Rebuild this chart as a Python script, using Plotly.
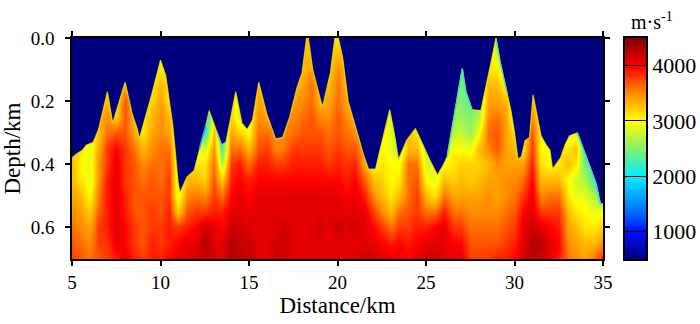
import plotly.graph_objects as go

# depth rows (km) and distance stations (km)
depths = [0.0,0.05,0.1,0.15,0.2,0.25,0.3,0.35,0.4,0.45,0.5,0.55,0.6,0.65,0.7]
stations = [5+0.5*i for i in range(61)]

# velocity columns in hundreds of m/s, one list per station, top to bottom
velocity_columns = [
[33,33,33,33,33,33,33,33,33,33,34,35,36,37,38],
[31,31,31,31,31,31,31,31,30,31,33,34,35,36,37],
[29,29,29,29,29,29,29,29,29,29,30,32,34,35,36],
[33,33,33,33,33,33,33,34,35,35,36,37,38,38,37],
[31,31,31,31,33,35,36,38,38,39,39,39,39,38,38],
[31,31,31,31,31,32,37,40,41,41,41,41,41,41,39],
[32,32,32,33,37,37,37,38,38,38,39,39,40,40,41],
[33,33,33,33,33,33,34,36,37,37,37,37,38,38,39],
[31,31,31,31,31,31,31,33,35,36,37,37,37,37,38],
[31,31,31,31,32,33,34,35,36,37,37,38,38,39,39],
[30,30,31,33,34,35,35,36,36,36,37,37,38,38,39],
[31,31,31,31,31,33,34,36,37,38,38,39,39,39,40],
[28,28,28,28,28,28,28,28,28,28,29,32,38,40,41],
[32,32,32,32,32,32,32,32,32,33,35,37,39,41,41],
[30,30,30,30,30,30,30,30,31,33,36,38,40,41,42],
[19,19,19,19,19,19,22,28,31,32,35,38,42,43,42],
[30,30,30,30,30,30,33,35,36,37,38,39,41,41,42],
[23,23,23,23,23,23,23,23,27,32,36,39,40,41,41],
[32,32,32,32,32,32,34,36,38,39,40,41,42,43,43],
[28,28,28,28,28,28,32,36,39,40,41,41,42,42,43],
[29,29,29,29,29,29,30,33,36,39,40,41,41,42,42],
[33,33,33,33,34,35,36,37,39,40,41,41,41,41,41],
[33,33,33,33,33,34,36,38,39,40,41,41,41,41,41],
[35,35,35,35,35,35,35,35,38,40,41,41,41,42,42],
[35,35,35,35,35,35,35,36,38,40,41,41,42,42,42],
[33,33,33,33,34,35,36,38,39,40,41,41,41,41,41],
[33,33,33,34,35,36,37,38,39,40,41,41,41,41,41],
[33,33,34,36,36,37,37,38,39,40,41,41,41,41,41],
[33,33,33,33,33,35,37,38,39,40,41,41,42,41,41],
[32,32,32,33,34,35,36,37,38,40,41,41,41,41,41],
[31,33,35,36,36,37,37,38,39,40,41,41,42,41,41],
[33,33,33,33,34,35,36,37,38,39,40,41,41,41,41],
[33,33,33,33,33,33,35,37,39,40,41,41,42,41,41],
[34,34,34,34,34,34,34,34,34,37,39,41,41,41,42],
[30,30,30,30,30,30,30,30,30,33,35,38,40,41,42],
[30,30,30,30,30,30,30,30,31,32,33,35,38,40,41],
[28,28,28,28,28,28,29,29,30,30,31,33,36,39,41],
[27,27,27,27,27,27,27,27,30,31,33,36,38,40,41],
[33,33,33,33,33,33,33,33,36,36,36,37,38,39,40],
[30,30,30,30,30,30,31,33,36,37,38,38,39,40,41],
[27,27,27,27,27,27,27,27,28,30,33,36,39,41,42],
[29,29,29,29,29,29,29,29,29,29,31,36,40,41,42],
[29,29,29,29,29,29,29,29,30,33,36,39,41,41,41],
[26,26,26,26,26,26,27,30,31,32,34,36,38,40,41],
[23,23,24,24,25,26,28,30,32,33,34,36,38,40,41],
[24,24,24,24,24,25,26,29,32,32,34,35,36,37,38],
[26,26,26,26,26,27,30,33,32,33,34,35,36,37,38],
[31,31,31,33,34,35,36,35,33,34,35,35,36,37,38],
[26,28,31,33,34,36,37,37,35,34,34,35,36,37,39],
[26,26,26,30,33,34,34,34,34,35,35,36,37,38,39],
[28,28,28,28,28,28,31,33,34,35,36,37,38,39,40],
[31,31,31,31,31,31,31,31,34,36,38,40,41,41,42],
[32,32,32,32,33,35,37,38,39,40,41,41,42,43,42],
[30,30,30,30,30,30,30,30,31,33,35,38,41,43,42],
[30,30,30,30,30,30,30,30,30,33,36,38,40,41,41],
[31,31,31,31,31,31,31,31,31,33,36,38,39,40,39],
[29,29,29,29,29,29,29,31,33,30,31,33,34,35,36],
[27,27,27,27,27,27,28,33,31,28,29,31,33,34,35],
[22,22,22,22,22,22,22,22,24,27,29,30,31,33,34],
[22,22,22,22,22,22,22,22,22,22,27,29,31,33,36],
[22,22,22,22,22,22,22,22,22,22,23,30,32,35,39],
]

# top of the velocity model (km)
surface_x = [5,5.2,5.6,5.8,6.2,6.5,7,7.3,8,8.4,8.7,8.8,9,9.5,10,10.3,10.7,11,11.1,11.5,11.9,12.2,12.4,12.55,12.75,13.2,13.45,13.7,14.25,14.6,14.9,15.2,15.55,16,16.5,16.9,17.3,17.7,18,18.25,18.35,18.6,19.15,19.6,19.85,20.05,20.3,20.6,21,21.5,21.75,22.15,22.4,22.7,22.95,23.2,23.45,23.9,24.4,24.8,25.2,25.65,26,26.2,26.5,26.8,27.05,27.25,27.6,28.1,28.4,28.7,28.95,29.2,29.6,29.8,30,30.2,30.4,30.6,30.85,31.05,31.5,31.8,32,32.15,32.6,32.85,33.1,33.55,34,34.6,34.85,35]
surface_depth = [.38,.37,.355,.34,.33,.29,.17,.27,.14,.24,.29,.32,.28,.18,.07,.12,.28,.46,.49,.44,.42,.35,.31,.28,.23,.30,.34,.33,.17,.27,.29,.26,.14,.24,.32,.315,.25,.16,.11,0,0,.10,.22,.11,0,0,.065,.2,.28,.375,.415,.415,.355,.29,.227,.30,.385,.325,.287,.335,.385,.435,.40,.375,.28,.175,.097,.17,.227,.23,.155,.07,0,.08,.18,.23,.30,.385,.375,.325,.315,.18,.31,.34,.355,.415,.38,.34,.31,.30,.37,.46,.525,.525]

# stretches of the surface whose thin rim is cool-coloured, with that colour
cool_rims = [(12.2,12.55,"#20a0ff"),(13.2,13.7,"#40e0c0"),(26.2,27.6,"#40e0b0"),(28.95,29.6,"#60e0a0"),(33.55,35,"#40d8c0")]

x_ticks = [5,10,15,20,25,30,35]
y_ticks = [0.0,0.2,0.4,0.6]
bar_ticks = [1000,2000,3000,4000]
bar_values = [500,750,1000,1250,1500,1750,2000,2250,2500,2750,3000,3250,3500,3750,4000,4250,4500]

SERIF = "Liberation Serif"
z = [[velocity_columns[c][r]*100 for c in range(len(stations))] for r in range(len(depths))]

colorscale = [
    [0.0, "#00007f"], [0.125, "#0010ff"], [0.22, "#0070ff"], [0.375, "#00f0ff"],
    [0.5, "#80f070"], [0.625, "#ffff00"], [0.75, "#ff8c00"], [0.875, "#ff0000"], [1.0, "#7f0000"],
]

W, H = 700, 324
L, T, R, B = 72, 37.5, 54, 65
span = W - L - R

fig = go.Figure()
fig.add_trace(go.Heatmap(
    x=stations, y=depths, z=z, zsmooth="best", zmin=500, zmax=4500,
    colorscale=colorscale, hoverinfo="skip", showscale=False, xaxis="x", yaxis="y",
))
fig.add_trace(go.Scatter(
    x=[5]+surface_x+[35], y=[0]+surface_depth+[0], mode="lines",
    line=dict(width=0), fill="toself", fillcolor="#00007f", hoverinfo="skip", showlegend=False,
    xaxis="x", yaxis="y",
))
fig.add_trace(go.Scatter(
    x=surface_x, y=surface_depth, mode="lines", line=dict(width=1.2, color="rgba(250,235,0,0.75)"),
    hoverinfo="skip", showlegend=False, xaxis="x", yaxis="y",
))
for start, stop, rim in cool_rims:
    idx = [i for i, sx in enumerate(surface_x) if start <= sx <= stop]
    fig.add_trace(go.Scatter(
        x=[surface_x[i] for i in idx], y=[surface_depth[i] for i in idx], mode="lines",
        line=dict(width=1.4, color=rim), hoverinfo="skip", showlegend=False, xaxis="x", yaxis="y",
    ))
fig.add_trace(go.Heatmap(
    x=[0, 1], y=bar_values, z=[[v, v] for v in bar_values], zsmooth="best", zmin=500, zmax=4500,
    colorscale=colorscale, hoverinfo="skip", showscale=False, xaxis="x2", yaxis="y2",
))
axis = dict(showgrid=False, zeroline=False, ticks="outside", ticklen=5, tickwidth=1.5, automargin=False,
            tickcolor="black", showline=True, linecolor="black", linewidth=1.5, mirror="ticks",
            tickfont=dict(family=SERIF, size=19, color="black"))
fig.update_layout(
    xaxis=dict(range=[5,35], tickvals=x_ticks, domain=[0, 531/span], anchor="y", ticklabelstandoff=0,
               title=dict(text="Distance/km", standoff=2, font=dict(family=SERIF, size=23, color="black")), **axis),
    yaxis=dict(range=[0.7,0], tickvals=y_ticks, tickformat=".1f", anchor="x", ticklabelstandoff=7,
               title=dict(text="Depth/km", standoff=11, font=dict(family=SERIF, size=23, color="black")), **axis),
    xaxis2=dict(range=[0,1], domain=[553/span, 1], anchor="y2", showticklabels=False, ticks="", showgrid=False,
                zeroline=False, showline=True, linecolor="black", linewidth=1.5, mirror=True, automargin=False),
    yaxis2=dict(range=[500,4500], anchor="x2", side="right", tickvals=bar_ticks, ticks="inside", ticklen=21,
                tickwidth=1.2, tickcolor="black", showgrid=False, zeroline=False, showline=True,
                linecolor="black", linewidth=1.5, mirror=True, automargin=False,
                tickfont=dict(family=SERIF, size=22, color="black")),
    width=W, height=H, autosize=False, paper_bgcolor="white", plot_bgcolor="#00007f",
    margin=dict(l=L, r=R, t=T, b=B), showlegend=False,
)
fig.add_annotation(text="m·s<sup>-1</sup>", xref="paper", yref="paper", x=580/span, y=1.0,
                   xanchor="center", yanchor="bottom", yshift=3, showarrow=False,
                   font=dict(family=SERIF, size=20, color="black"))
fig.write_html("out.html", config={"displayModeBar": False}, default_width="700px", default_height="324px",
               post_script="document.body.style.margin='0';document.body.style.overflow='hidden';")
